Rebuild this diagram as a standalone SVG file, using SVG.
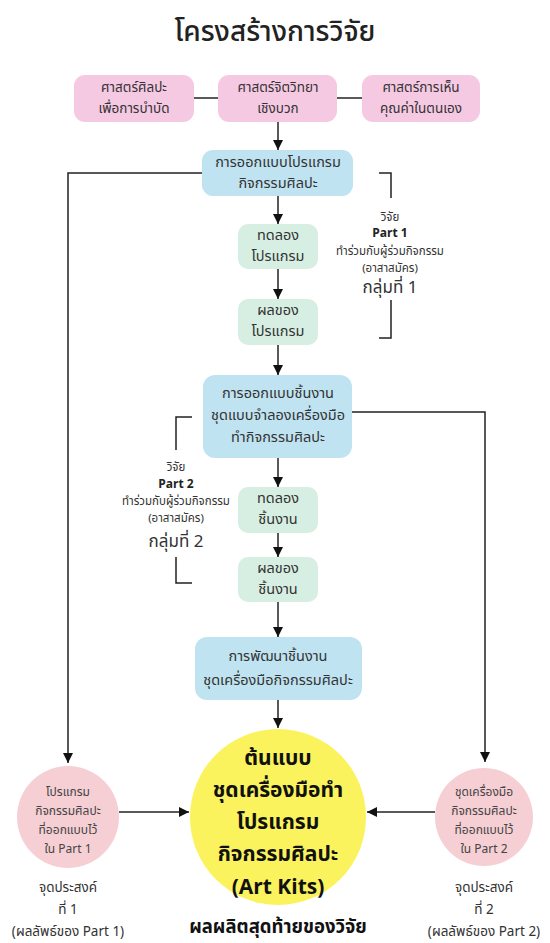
<svg xmlns="http://www.w3.org/2000/svg" width="550" height="943" viewBox="0 0 550 943">
  <defs>
    <marker id="arrow" viewBox="0 0 10 10" refX="10" refY="5" markerWidth="10" markerHeight="10" markerUnits="userSpaceOnUse" orient="auto">
      <path d="M0,0 L10,5 L0,10 z" fill="#111"/>
    </marker>
    <style>
      text { font-family: "Noto Sans Thai", "Loma", "Garuda", "Noto Sans", "DejaVu Sans", sans-serif; fill: #222; text-anchor: middle; dominant-baseline: central; }
      .title { font-size: 28px; font-weight: 500; }
      .box { font-size: 14.5px; fill: #333; }
      .box-s { font-size: 13.5px; fill: #333; }
      .pink { fill: #f6c9e3; }
      .blue { fill: #bfe3f1; }
      .green { fill: #d7efe2; }
      .rose { fill: #f6cfd4; }
      .sun { fill: #fbf35e; }
      .note { font-size: 11.5px; fill: #333; }
      .note-b { font-size: 12px; font-weight: 700; fill: #222; }
      .group { font-size: 17px; fill: #333; }
      .small { font-size: 12px; fill: #444; }
      .cap { font-size: 13.5px; fill: #333; }
      .big { font-size: 21px; font-weight: 700; fill: #111; }
      .final { font-size: 18.5px; font-weight: 700; fill: #111; }
      .line { stroke: #222; stroke-width: 1.5; fill: none; }
      .arr { stroke: #222; stroke-width: 1.5; fill: none; marker-end: url(#arrow); }
    </style>
  </defs>

  <rect width="550" height="943" fill="#ffffff"/>

  <text class="title" x="275" y="32">โครงสร้างการวิจัย</text>

  <!-- connectors -->
  <g id="connectors">
    <line class="line" x1="194" y1="98" x2="218" y2="98"/>
    <line class="line" x1="337" y1="98" x2="362" y2="98"/>
    <line class="arr" x1="278" y1="122" x2="278" y2="150"/>
    <line class="arr" x1="278" y1="196" x2="278" y2="224"/>
    <line class="arr" x1="278" y1="269" x2="278" y2="299"/>
    <line class="arr" x1="278" y1="345" x2="278" y2="375"/>
    <line class="arr" x1="278" y1="458" x2="278" y2="487"/>
    <line class="arr" x1="278" y1="533" x2="278" y2="557"/>
    <line class="arr" x1="278" y1="602" x2="278" y2="637"/>
    <line class="arr" x1="278" y1="700" x2="278" y2="728"/>
    <polyline class="arr" points="202,173 68,173 68,763"/>
    <polyline class="arr" points="352,412 485,412 485,762"/>
    <line class="arr" x1="119" y1="812" x2="189" y2="812"/>
    <line class="arr" x1="435" y1="812" x2="367" y2="812"/>
    <!-- Part 1 bracket -->
    <polyline class="line" points="379,173 391,173 391,198"/>
    <polyline class="line" points="391,300 391,338 379,338"/>
    <!-- Part 2 bracket -->
    <polyline class="line" points="192,417 176,417 176,450"/>
    <polyline class="line" points="176,557 176,583 192,583"/>
  </g>

  <g id="n-art-therapy">
    <rect class="pink" x="74" y="75" width="120" height="47" rx="11"/>
    <text class="box-s" x="134" y="88">ศาสตร์ศิลปะ</text>
    <text class="box-s" x="134" y="109">เพื่อการบำบัด</text>
  </g>
  <g id="n-positive-psych">
    <rect class="pink" x="218" y="75" width="119" height="47" rx="11"/>
    <text class="box-s" x="278" y="88">ศาสตร์จิตวิทยา</text>
    <text class="box-s" x="278" y="109">เชิงบวก</text>
  </g>
  <g id="n-self-esteem">
    <rect class="pink" x="362" y="75" width="118" height="47" rx="11"/>
    <text class="box-s" x="421" y="88">ศาสตร์การเห็น</text>
    <text class="box-s" x="421" y="109">คุณค่าในตนเอง</text>
  </g>

  <g id="n-design-program">
    <rect class="blue" x="202" y="150" width="151" height="46" rx="11"/>
    <text class="box" x="278" y="163">การออกแบบโปรแกรม</text>
    <text class="box" x="278" y="184">กิจกรรมศิลปะ</text>
  </g>
  <g id="n-trial-program">
    <rect class="green" x="238" y="224" width="80" height="45" rx="10"/>
    <text class="box" x="278" y="236">ทดลอง</text>
    <text class="box" x="278" y="257">โปรแกรม</text>
  </g>
  <g id="n-result-program">
    <rect class="green" x="238" y="299" width="80" height="46" rx="10"/>
    <text class="box" x="278" y="311">ผลของ</text>
    <text class="box" x="278" y="332">โปรแกรม</text>
  </g>

  <g id="n-part1-note">
    <text class="note" x="390" y="217">วิจัย</text>
    <text class="note-b" x="390" y="233">Part 1</text>
    <text class="note" x="390" y="251">ทำร่วมกับผู้ร่วมกิจกรรม</text>
    <text class="note" x="390" y="268">(อาสาสมัคร)</text>
    <text class="group" x="390" y="288">กลุ่มที่ 1</text>
  </g>

  <g id="n-design-kit">
    <rect class="blue" x="203" y="375" width="149" height="83" rx="12"/>
    <text class="box" x="278" y="394">การออกแบบชิ้นงาน</text>
    <text class="box" x="278" y="416">ชุดแบบจำลองเครื่องมือ</text>
    <text class="box" x="278" y="438">ทำกิจกรรมศิลปะ</text>
  </g>

  <g id="n-part2-note">
    <text class="note" x="176" y="467">วิจัย</text>
    <text class="note-b" x="176" y="484">Part 2</text>
    <text class="note" x="176" y="501">ทำร่วมกับผู้ร่วมกิจกรรม</text>
    <text class="note" x="176" y="518">(อาสาสมัคร)</text>
    <text class="group" x="176" y="542">กลุ่มที่ 2</text>
  </g>

  <g id="n-trial-kit">
    <rect class="green" x="238" y="487" width="80" height="46" rx="10"/>
    <text class="box" x="278" y="499">ทดลอง</text>
    <text class="box" x="278" y="520">ชิ้นงาน</text>
  </g>
  <g id="n-result-kit">
    <rect class="green" x="238" y="557" width="80" height="45" rx="10"/>
    <text class="box" x="278" y="569">ผลของ</text>
    <text class="box" x="278" y="590">ชิ้นงาน</text>
  </g>

  <g id="n-develop-kit">
    <rect class="blue" x="195" y="637" width="167" height="63" rx="12"/>
    <text class="box" x="278" y="657">การพัฒนาชิ้นงาน</text>
    <text class="box" x="278" y="681">ชุดเครื่องมือกิจกรรมศิลปะ</text>
  </g>

  <g id="n-program-out">
    <circle class="rose" cx="68" cy="817" r="51"/>
    <text class="small" x="68" y="792">โปรแกรม</text>
    <text class="small" x="68" y="811">กิจกรรมศิลปะ</text>
    <text class="small" x="68" y="830">ที่ออกแบบไว้</text>
    <text class="small" x="68" y="849">ใน Part 1</text>
    <text class="cap" x="68" y="888">จุดประสงค์</text>
    <text class="cap" x="68" y="910">ที่ 1</text>
    <text class="cap" x="68" y="932">(ผลลัพธ์ของ Part 1)</text>
  </g>

  <g id="n-kit-out">
    <circle class="rose" cx="484" cy="817" r="49"/>
    <text class="small" x="484" y="792">ชุดเครื่องมือ</text>
    <text class="small" x="484" y="811">กิจกรรมศิลปะ</text>
    <text class="small" x="484" y="830">ที่ออกแบบไว้</text>
    <text class="small" x="484" y="849">ใน Part 2</text>
    <text class="cap" x="484" y="888">จุดประสงค์</text>
    <text class="cap" x="484" y="910">ที่ 2</text>
    <text class="cap" x="484" y="932">(ผลลัพธ์ของ Part 2)</text>
  </g>

  <g id="n-art-kits">
    <circle class="sun" cx="278" cy="817" r="88"/>
    <text class="big" x="278" y="758">ต้นแบบ</text>
    <text class="big" x="278" y="790">ชุดเครื่องมือทำ</text>
    <text class="big" x="278" y="822">โปรแกรม</text>
    <text class="big" x="278" y="854">กิจกรรมศิลปะ</text>
    <text class="big" x="278" y="887">(Art Kits)</text>
  </g>

  <text class="final" x="278" y="927">ผลผลิตสุดท้ายของวิจัย</text>
</svg>
